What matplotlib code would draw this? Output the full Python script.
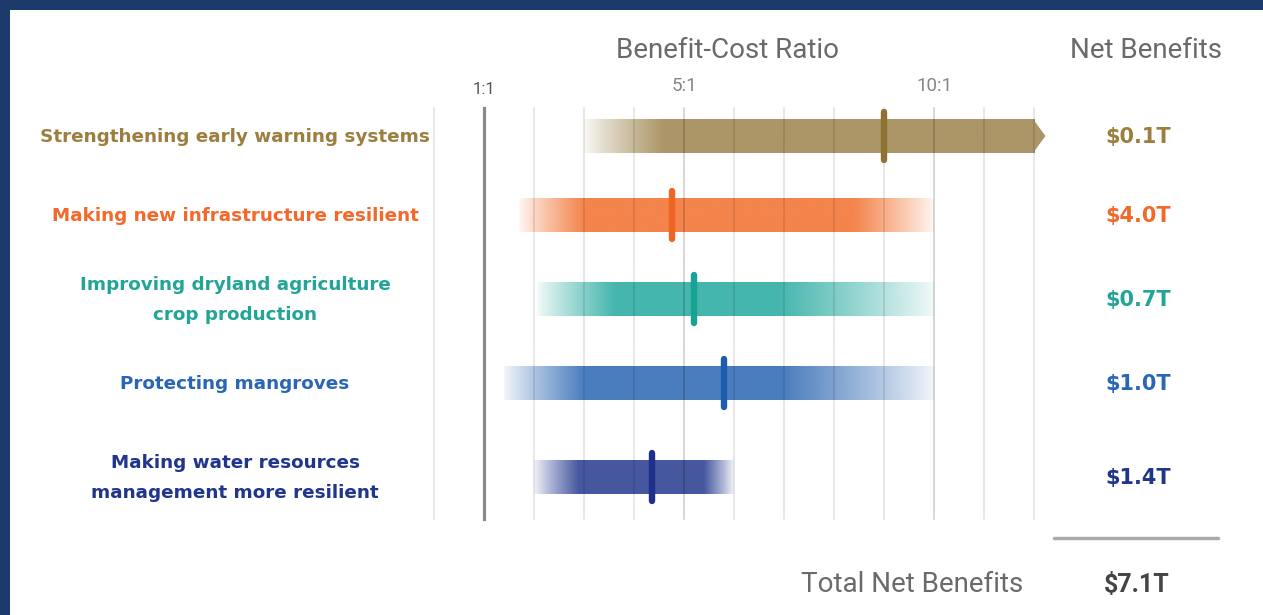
import numpy as np
import matplotlib
matplotlib.use("Agg")
import matplotlib.pyplot as plt
from matplotlib.patches import Rectangle, Polygon
from matplotlib.colors import to_rgb

# ---------------- data ----------------
options = ["Strengthening early warning systems",
           "Making new infrastructure resilient",
           "Improving dryland agriculture\ncrop production",
           "Protecting mangroves",
           "Making water resources\nmanagement more resilient"]
net_benefits = ["$0.1T", "$4.0T", "$0.7T", "$1.0T", "$1.4T"]
total_benefits = "$7.1T"
# benefit-cost ratio range (fade start, solid start, solid end, fade end) and central estimate
bcr_low = [3.0, 1.7, 2.05, 1.4, 2.0]
bcr_solid_low = [4.6, 3.0, 3.6, 3.0, 2.9]
bcr_solid_high = [12.0, 8.4, 6.9, 7.0, 5.4]
bcr_high = [12.0, 10.0, 10.0, 10.0, 6.0]
bcr_central = [9.0, 4.75, 5.2, 5.8, 4.35]
open_ended = [True, False, False, False, False]
tick_vals = [1, 5, 10]
tick_labels = ["1:1", "5:1", "10:1"]

bar_colors = ["#AC9566", "#F4844B", "#45B6AD", "#4A7DBE", "#46579F"]
mark_colors = ["#8C7334", "#EE6524", "#17A393", "#1E5DAE", "#1E318A"]
text_colors = ["#9C7F3E", "#F2692B", "#22A598", "#2A66B8", "#20358C"]

# ---------------- layout (pixels) ----------------
W, H = 1263, 615
row_y = [136, 215, 299, 383, 477]
bar_h = 34
px0, px_per_unit = 434, 50  # pixel of ratio 0 and pixels per ratio unit

fig = plt.figure(figsize=(W / 100, H / 100), dpi=100)
fig.patch.set_facecolor("#1C3A6A")
ax = fig.add_axes([0, 0, 1, 1])
ax.set_xlim(-px0 / px_per_unit, (W - px0) / px_per_unit)
ax.set_ylim(H, 0)
ax.axis("off")

# white panel
ax.add_patch(Rectangle(((10 - px0) / px_per_unit, 10), (W - 10) / px_per_unit, H,
                       facecolor="white", edgecolor="none", zorder=0))

def xpx(p):
    return (p - px0) / px_per_unit

# gridlines
for v in range(0, 13):
    if v == 1:
        continue
    a = 0.2 if v in (5, 10) else 0.12
    ax.plot([v, v], [108, 519], color="black", alpha=a, lw=1.1, zorder=4)
ax.plot([1, 1], [108, 519], color="#8A8A8A", lw=2.3, zorder=4)

# gradient bars
for i in range(len(options)):
    lo, slo, shi, hi = bcr_low[i], bcr_solid_low[i], bcr_solid_high[i], bcr_high[i]
    xs = np.linspace(lo, hi, 600)
    alpha = np.ones_like(xs)
    if slo > lo:
        alpha = np.minimum(alpha, np.clip((xs - lo) / (slo - lo), 0, 1) ** 0.9)
    if hi > shi:
        alpha = np.minimum(alpha, np.clip((hi - xs) / (hi - shi), 0, 1) ** 0.9)
    alpha = 0.06 + 0.94 * alpha
    rgba = np.zeros((1, len(xs), 4))
    rgba[0, :, :3] = to_rgb(bar_colors[i])
    rgba[0, :, 3] = alpha
    y = row_y[i]
    ax.imshow(rgba, extent=(lo, hi, y + bar_h / 2, y - bar_h / 2), aspect="auto",
              interpolation="bilinear", zorder=2)
    if open_ended[i]:
        ax.add_patch(Polygon([(hi - 0.02, y - bar_h / 2), (hi + 0.23, y), (hi - 0.02, y + bar_h / 2)],
                             closed=True, facecolor=bar_colors[i], edgecolor="none", zorder=2))
    ax.plot([bcr_central[i]] * 2, [y - 24, y + 24], color=mark_colors[i], lw=4.6,
            solid_capstyle="round", zorder=5)

    # labels
    ax.text(xpx(235), y + 1, options[i], ha="center", va="center", fontsize=13.2,
            fontweight="bold", color=text_colors[i], family="DejaVu Sans", linespacing=1.85)
    ax.text(xpx(1138), y + 1, net_benefits[i], ha="center", va="center", fontsize=15,
            fontweight="bold", color=text_colors[i], family="DejaVu Sans")

# tick labels
for v, lab in zip(tick_vals, tick_labels):
    if v == 1:
        ax.text(v, 90, lab, ha="center", va="center", fontsize=12, color="#555555", family="Roboto")
    else:
        ax.text(v, 86, lab, ha="center", va="center", fontsize=13.5, color="#858585",
                family="Roboto")

# headers
ax.text(xpx(727), 50, "Benefit-Cost Ratio", ha="center", va="center", fontsize=20,
        color="#6A6A6A", family="Roboto")
ax.text(xpx(1146), 50, "Net Benefits", ha="center", va="center", fontsize=20,
        color="#6A6A6A", family="Roboto")

# total
ax.plot([xpx(1054), xpx(1218)], [538, 538], color="#AAAAAA", lw=2.5, solid_capstyle="round", zorder=3)
ax.text(xpx(912), 585, "Total Net Benefits", ha="center", va="center", fontsize=20,
        color="#6A6A6A", family="Roboto")
ax.text(xpx(1137), 585, total_benefits, ha="center", va="center", fontsize=18,
        color="#444444", family="Roboto", fontweight="bold")

fig.savefig("out.png", dpi=100, facecolor=fig.get_facecolor())
